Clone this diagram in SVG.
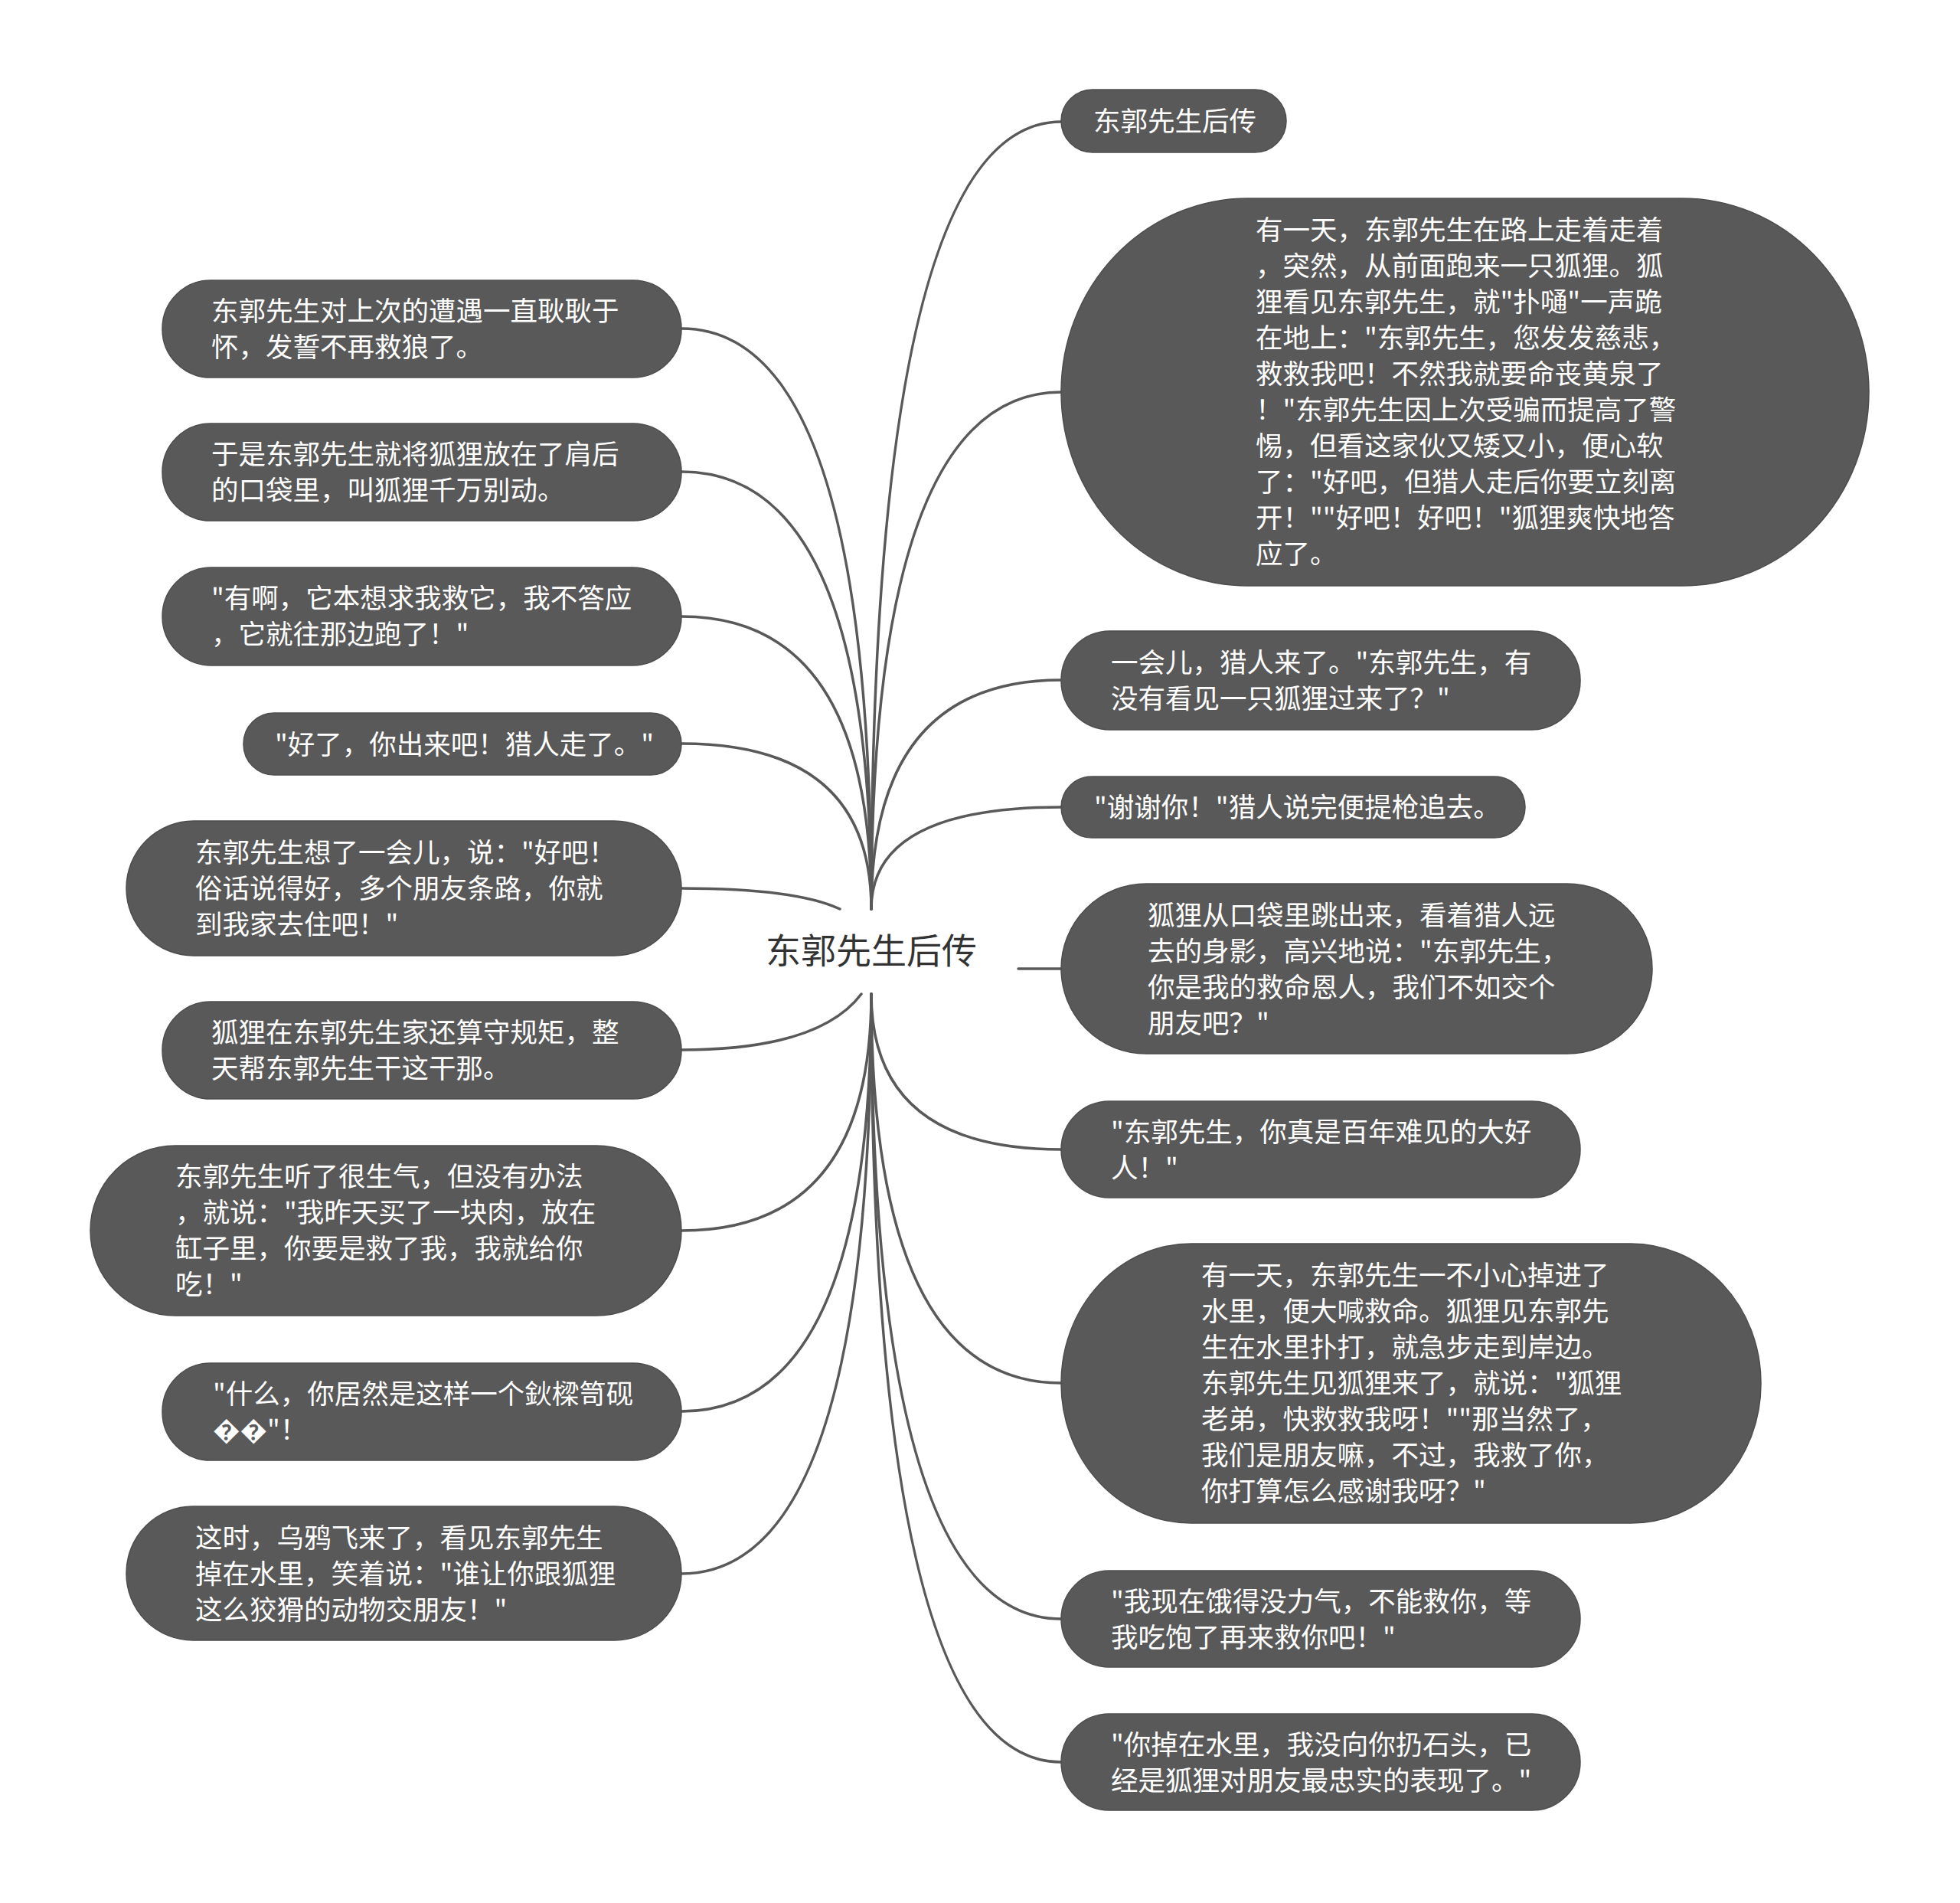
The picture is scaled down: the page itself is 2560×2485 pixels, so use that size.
<svg xmlns="http://www.w3.org/2000/svg" width="2560" height="2485" viewBox="0 0 2560 2485">
<style>
.node rect{fill:#595959;stroke:#4d4d4d;stroke-width:1.5}
.node text{fill:#ffffff;font-family:"Noto Sans CJK SC","Noto Sans",sans-serif;font-size:35.5px}
.links path{fill:none;stroke:#595959;stroke-width:3.5;stroke-linecap:round}
#center text{fill:#333333;font-family:"Noto Sans CJK SC","Noto Sans",sans-serif;font-size:46px}
</style>
<rect width="2560" height="2485" fill="#ffffff"/>
<g class="links">
<path d="M1138,1187 Q1138,159 1386,159"/>
<path d="M1138,1187 Q1138,512 1386,512"/>
<path d="M1138,1187 Q1138,888 1386,888"/>
<path d="M1138,1187 Q1138,1054 1386,1054"/>
<path d="M1330,1265 L1386,1265"/>
<path d="M1138,1298 Q1138,1501 1386,1501"/>
<path d="M1138,1298 Q1138,1806 1386,1806"/>
<path d="M1138,1298 Q1138,2114 1386,2114"/>
<path d="M1138,1298 Q1138,2301 1386,2301"/>
<path d="M1138,1187 Q1138,429 890,429"/>
<path d="M1138,1187 Q1138,616 890,616"/>
<path d="M1138,1187 Q1138,805 890,805"/>
<path d="M1138,1187 Q1138,971 890,971"/>
<path d="M1097,1187 Q1040,1160 890,1160"/>
<path d="M1125,1298 Q1070,1371 890,1371"/>
<path d="M1138,1298 Q1138,1607 890,1607"/>
<path d="M1138,1298 Q1138,1843 890,1843"/>
<path d="M1138,1298 Q1138,2055 890,2055"/>
</g>
<g id="center"><text x="1138" y="1258" text-anchor="middle">东郭先生后传</text></g>
<g id="r1" class="node"><rect x="1386" y="117" width="294" height="82" rx="41"/><text x="1428" y="171">东郭先生后传</text></g>
<g id="r2" class="node"><rect x="1386" y="259" width="1055" height="506" rx="244" ry="253"/><text><tspan x="1640" y="313">有一天，东郭先生在路上走着走着</tspan><tspan x="1640" y="360">，突然，从前面跑来一只狐狸。狐</tspan><tspan x="1640" y="407">狸看见东郭先生，就"扑嗵"一声跪</tspan><tspan x="1640" y="454">在地上："东郭先生，您发发慈悲，</tspan><tspan x="1640" y="501">救救我吧！不然我就要命丧黄泉了</tspan><tspan x="1640" y="548">！"东郭先生因上次受骗而提高了警</tspan><tspan x="1640" y="595">惕，但看这家伙又矮又小，便心软</tspan><tspan x="1640" y="642">了："好吧，但猎人走后你要立刻离</tspan><tspan x="1640" y="689">开！""好吧！好吧！"狐狸爽快地答</tspan><tspan x="1640" y="736">应了。</tspan></text></g>
<g id="r3" class="node"><rect x="1386" y="824" width="678" height="129" rx="64"/><text><tspan x="1451" y="878">一会儿，猎人来了。"东郭先生，有</tspan><tspan x="1451" y="925">没有看见一只狐狸过来了？"</tspan></text></g>
<g id="r4" class="node"><rect x="1386" y="1014" width="606" height="80" rx="40"/><text x="1429" y="1067">"谢谢你！"猎人说完便提枪追去。</text></g>
<g id="r5" class="node"><rect x="1386" y="1154" width="772" height="222" rx="111"/><text><tspan x="1499" y="1208">狐狸从口袋里跳出来，看着猎人远</tspan><tspan x="1499" y="1255">去的身影，高兴地说："东郭先生，</tspan><tspan x="1499" y="1302">你是我的救命恩人，我们不如交个</tspan><tspan x="1499" y="1349">朋友吧？"</tspan></text></g>
<g id="r6" class="node"><rect x="1386" y="1438" width="678" height="126" rx="63"/><text><tspan x="1451" y="1491">"东郭先生，你真是百年难见的大好</tspan><tspan x="1451" y="1538">人！"</tspan></text></g>
<g id="r7" class="node"><rect x="1386" y="1624" width="914" height="365" rx="170" ry="182"/><text><tspan x="1569" y="1678">有一天，东郭先生一不小心掉进了</tspan><tspan x="1569" y="1725">水里，便大喊救命。狐狸见东郭先</tspan><tspan x="1569" y="1772">生在水里扑打，就急步走到岸边。</tspan><tspan x="1569" y="1819">东郭先生见狐狸来了，就说："狐狸</tspan><tspan x="1569" y="1866">老弟，快救救我呀！""那当然了，</tspan><tspan x="1569" y="1913">我们是朋友嘛，不过，我救了你，</tspan><tspan x="1569" y="1960">你打算怎么感谢我呀？"</tspan></text></g>
<g id="r8" class="node"><rect x="1386" y="2051" width="678" height="126" rx="63"/><text><tspan x="1451" y="2104">"我现在饿得没力气，不能救你，等</tspan><tspan x="1451" y="2151">我吃饱了再来救你吧！"</tspan></text></g>
<g id="r9" class="node"><rect x="1386" y="2238" width="678" height="126" rx="63"/><text><tspan x="1451" y="2291">"你掉在水里，我没向你扔石头，已</tspan><tspan x="1451" y="2338">经是狐狸对朋友最忠实的表现了。"</tspan></text></g>
<g id="l1" class="node"><rect x="212" y="366" width="678" height="127" rx="63"/><text><tspan x="276" y="419">东郭先生对上次的遭遇一直耿耿于</tspan><tspan x="276" y="466">怀，发誓不再救狼了。</tspan></text></g>
<g id="l2" class="node"><rect x="212" y="553" width="678" height="127" rx="63"/><text><tspan x="276" y="606">于是东郭先生就将狐狸放在了肩后</tspan><tspan x="276" y="653">的口袋里，叫狐狸千万别动。</tspan></text></g>
<g id="l3" class="node"><rect x="212" y="741" width="678" height="128" rx="64"/><text><tspan x="276" y="794">"有啊，它本想求我救它，我不答应</tspan><tspan x="276" y="841">，它就往那边跑了！"</tspan></text></g>
<g id="l4" class="node"><rect x="318" y="931" width="572" height="81" rx="40"/><text x="359" y="985">"好了，你出来吧！猎人走了。"</text></g>
<g id="l5" class="node"><rect x="165" y="1072" width="725" height="176" rx="88"/><text><tspan x="255" y="1126">东郭先生想了一会儿，说："好吧！</tspan><tspan x="255" y="1173">俗话说得好，多个朋友条路，你就</tspan><tspan x="255" y="1220">到我家去住吧！"</tspan></text></g>
<g id="l6" class="node"><rect x="212" y="1308" width="678" height="127" rx="63"/><text><tspan x="276" y="1361">狐狸在东郭先生家还算守规矩，整</tspan><tspan x="276" y="1408">天帮东郭先生干这干那。</tspan></text></g>
<g id="l7" class="node"><rect x="118" y="1496" width="772" height="222" rx="111"/><text><tspan x="229" y="1549">东郭先生听了很生气，但没有办法</tspan><tspan x="229" y="1596">，就说："我昨天买了一块肉，放在</tspan><tspan x="229" y="1643">缸子里，你要是救了我，我就给你</tspan><tspan x="229" y="1690">吃！"</tspan></text></g>
<g id="l8" class="node"><rect x="212" y="1780" width="678" height="127" rx="63"/><text><tspan x="278" y="1833">"什么，你居然是这样一个鈥樑笥砚</tspan><tspan x="278" y="1880">��"！</tspan></text></g>
<g id="l9" class="node"><rect x="165" y="1967" width="725" height="175" rx="87"/><text><tspan x="255" y="2021">这时，乌鸦飞来了，看见东郭先生</tspan><tspan x="255" y="2068">掉在水里，笑着说："谁让你跟狐狸</tspan><tspan x="255" y="2115">这么狡猾的动物交朋友！"</tspan></text></g>
</svg>
